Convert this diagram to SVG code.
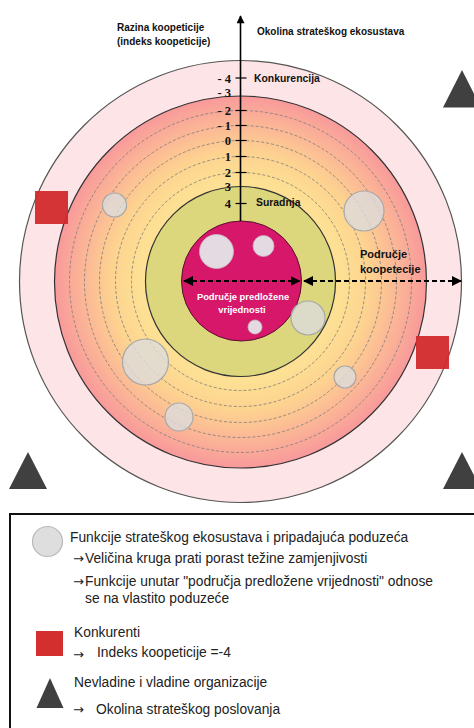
<svg xmlns="http://www.w3.org/2000/svg" width="474" height="728" viewBox="0 0 474 728">
<defs>
  <radialGradient id="ringGrad" gradientUnits="userSpaceOnUse" cx="240.5" cy="281.5" r="186">
    <stop offset="0" stop-color="#fde59a"/>
    <stop offset="0.55" stop-color="#fde093"/>
    <stop offset="0.7" stop-color="#fdd290"/>
    <stop offset="0.85" stop-color="#fbb696"/>
    <stop offset="1" stop-color="#f8999b"/>
  </radialGradient>
  <marker id="headBlack" viewBox="0 0 10 10" refX="9" refY="5" markerWidth="5" markerHeight="5" orient="auto-start-reverse" markerUnits="strokeWidth">
    <path d="M0,0 L10,5 L0,10 z" fill="#000"/>
  </marker>
  <marker id="axisHead" viewBox="0 0 10 10" refX="9" refY="5" markerWidth="6" markerHeight="5" orient="auto" markerUnits="strokeWidth">
    <path d="M0,0 L10,5 L0,10 z" fill="#000"/>
  </marker>
</defs>
<style>
  .dash { fill: none; stroke: #7a7a7a; stroke-width: 0.8; stroke-dasharray: 3 2; }
  .blob { fill: #dcdcdc; fill-opacity: 0.8; stroke: #a8a8a8; stroke-width: 1.2; }
  .blobIn { fill: #e4dbe2; stroke: #c9b6c2; stroke-width: 0.8; }
  .comp { fill: #d32a2c; fill-opacity: 0.95; }
  .tri { fill: #404040; }
  .tick { font-family: "Liberation Serif", "Times New Roman", serif; font-weight: bold; font-size: 12.5px; fill: #111; text-anchor: end; }
  .lbl { font-family: "Liberation Sans", Arial, sans-serif; font-weight: bold; font-size: 10px; fill: #111; }
  .leg { font-family: "Liberation Sans", Arial, sans-serif; font-size: 13.8px; fill: #222; }
  .arr { font-family: "DejaVu Sans", sans-serif; font-size: 13px; fill: #222; }
  .tickline { stroke: #000; stroke-width: 1.2; }
</style>
<rect width="474" height="728" fill="#fff"/>

<g id="rings">
  <circle id="outer-ring" cx="240.5" cy="281.5" r="221" fill="#fde4e6" stroke="#555" stroke-width="1.2"/>
  <circle id="coopetition-ring" cx="240.5" cy="282" r="186" fill="url(#ringGrad)" stroke="#333" stroke-width="1.2"/>
  <circle class="dash" cx="240.5" cy="281.5" r="171"/>
  <circle class="dash" cx="240.5" cy="281.5" r="156"/>
  <circle class="dash" cx="240.5" cy="281.5" r="141"/>
  <circle class="dash" cx="240.5" cy="281.5" r="125"/>
  <circle class="dash" cx="240.5" cy="281.5" r="109"/>
  <circle id="cooperation-circle" cx="240.5" cy="281.5" r="95" fill="#dcd67c" stroke="#333" stroke-width="1.2"/>
  <circle id="value-circle" cx="241.5" cy="281" r="60" fill="#d6176a" stroke="#5a1030" stroke-width="1"/>
</g>

<g id="functions">
  <circle class="blobIn" cx="216.5" cy="251.5" r="17"/>
  <circle class="blobIn" cx="263.5" cy="246" r="10.5"/>
  <circle class="blobIn" cx="255" cy="327" r="7"/>
  <circle class="blob" cx="308" cy="318" r="17"/>
  <circle class="blob" cx="364" cy="211" r="20"/>
  <circle class="blob" cx="114.5" cy="205" r="12"/>
  <circle class="blob" cx="145.5" cy="362" r="23"/>
  <circle class="blob" cx="179" cy="417" r="14"/>
  <circle class="blob" cx="345" cy="377" r="11"/>
</g>

<g id="competitors">
  <rect class="comp" x="35" y="191" width="33" height="33"/>
  <rect class="comp" x="416" y="336" width="33" height="33"/>
</g>

<g id="organizations">
  <polygon class="tri" points="462,70 481,107.5 443,107.5"/>
  <polygon class="tri" points="28,452 47,489 9,489"/>
  <polygon class="tri" points="462,452 481,489 443,489"/>
</g>

<g id="connectors">
  <line x1="240.5" y1="221" x2="240.5" y2="16" stroke="#000" stroke-width="1.6" marker-end="url(#axisHead)"/>
  <line class="tickline" x1="235.5" y1="78" x2="246.5" y2="78"/>
  <line class="tickline" x1="235.5" y1="110.5" x2="246.5" y2="110.5"/>
  <line class="tickline" x1="235.5" y1="125.5" x2="246.5" y2="125.5"/>
  <line class="tickline" x1="235.5" y1="140.5" x2="246.5" y2="140.5"/>
  <line class="tickline" x1="235.5" y1="156.5" x2="246.5" y2="156.5"/>
  <line class="tickline" x1="235.5" y1="172.5" x2="246.5" y2="172.5"/>
  <line class="tickline" x1="235.5" y1="203.5" x2="246.5" y2="203.5"/>
  <line x1="184" y1="281" x2="299.5" y2="281" stroke="#000" stroke-width="2" stroke-dasharray="5 3" marker-start="url(#headBlack)" marker-end="url(#headBlack)"/>
  <line x1="304" y1="281" x2="461" y2="281" stroke="#000" stroke-width="2" stroke-dasharray="5 3" marker-start="url(#headBlack)" marker-end="url(#headBlack)"/>
</g>

<g id="axis-labels">
  <text class="tick" x="231" y="83">- 4</text>
  <text class="tick" x="231" y="97">- 3</text>
  <text class="tick" x="231" y="115">- 2</text>
  <text class="tick" x="231" y="130">- 1</text>
  <text class="tick" x="231" y="145">0</text>
  <text class="tick" x="231" y="161">1</text>
  <text class="tick" x="231" y="177">2</text>
  <text class="tick" x="231" y="191">3</text>
  <text class="tick" x="231" y="208">4</text>
  <text class="lbl" x="254" y="82" style="font-size:10.4px">Konkurencija</text>
  <text class="lbl" x="256" y="206" style="font-size:10.4px">Suradnja</text>
  <text class="lbl" x="117" y="31">Razina koopeticije</text>
  <text class="lbl" x="117" y="45">(indeks koopeticije)</text>
  <text class="lbl" x="257" y="35">Okolina strateškog ekosustava</text>
  <text class="lbl" x="360" y="258" style="font-size:11px">Područje</text>
  <text class="lbl" x="360" y="273" style="font-size:11px">koopetecije</text>
  <text class="lbl" x="243" y="300" text-anchor="middle" style="font-size:9.4px;fill:#fff">Područje predložene</text>
  <text class="lbl" x="242" y="313" text-anchor="middle" style="font-size:9.4px;fill:#fff">vrijednosti</text>
</g>

<g id="legend">
  <rect x="10" y="514" width="470" height="230" fill="#fff" stroke="#111" stroke-width="2"/>
  <circle cx="47.5" cy="541.5" r="15" fill="#dedede" stroke="#b8b8b8" stroke-width="1.2"/>
  <text class="leg" x="70" y="542">Funkcije strateškog ekosustava i pripadajuća poduzeća</text>
  <text class="arr" x="73" y="563">→</text>
  <text class="leg" x="85" y="563">Veličina kruga prati porast težine zamjenjivosti</text>
  <text class="arr" x="73" y="586">→</text>
  <text class="leg" x="85" y="586">Funkcije unutar "područja predložene vrijednosti" odnose</text>
  <text class="leg" x="85" y="603">se na vlastito poduzeće</text>
  <rect x="36" y="631" width="27" height="25" fill="#d32f2f"/>
  <text class="leg" x="74" y="637">Konkurenti</text>
  <text class="arr" x="73" y="659">→</text>
  <text class="leg" x="97" y="657">Indeks koopeticije =-4</text>
  <polygon class="tri" points="50,678 63.5,708 36.5,708"/>
  <text class="leg" x="74" y="687">Nevladine i vladine organizacije</text>
  <text class="arr" x="73" y="714">→</text>
  <text class="leg" x="96" y="714">Okolina strateškog poslovanja</text>
</g>
</svg>
